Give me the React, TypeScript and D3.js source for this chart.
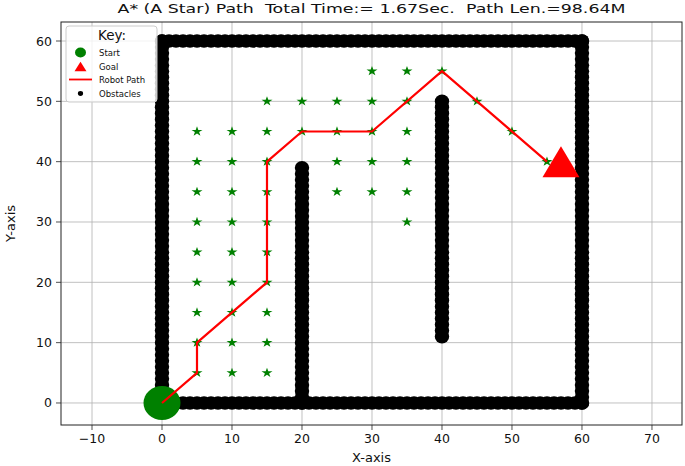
import React from "react";
import * as d3 from "d3";

// axis ticks
const xTicks = [-10, 0, 10, 20, 30, 40, 50, 60, 70];
const yTicks = [0, 10, 20, 30, 40, 50, 60];

// obstacle walls (grid units), expanded to one dot per unit
const wallStartX = [0, 60, 0, 0, 20, 40];
const wallStartY = [0, 0, 60, 0, 0, 11];
const wallEndX = [60, 60, 60, 0, 20, 40];
const wallEndY = [0, 60, 60, 60, 39, 50];

// visited nodes (green stars), one column per x
const starX = [5, 10, 15, 20, 25, 30, 35, 40, 45, 50, 55];
const starYs = [
  [5, 10, 15, 20, 25, 30, 35, 40, 45],
  [5, 10, 15, 20, 25, 30, 35, 40, 45],
  [5, 10, 15, 20, 25, 30, 35, 40, 45, 50],
  [45, 50],
  [35, 40, 45, 50],
  [35, 40, 45, 50, 55],
  [30, 35, 40, 45, 50, 55],
  [55],
  [50],
  [45],
  [40],
];

// final robot path
const pathX = [0, 5, 5, 15, 15, 20, 30, 40, 55];
const pathY = [0, 5, 10, 20, 40, 45, 45, 55, 40];

const start = [0, 0];
const goal = [57, 40];

const legendLabels = ["Start", "Goal", "Robot Path", "Obstacles"];

const title = "A* (A Star) Path  Total Time:= 1.67Sec.  Path Len.=98.64M";

const FONT = "DejaVu Sans, sans-serif";

export default function App() {
  const W = 685;
  const H = 466;
  const left = 61, right = 682, top = 22, bottom = 425;

  const x = d3.scaleLinear().domain([-14.43, 74.29]).range([left, right]);
  const y = d3.scaleLinear().domain([-3.65, 63.15]).range([bottom, top]);

  const obstacles: [number, number][] = [];
  wallStartX.forEach((_, i) => {
    const n = Math.max(Math.abs(wallEndX[i] - wallStartX[i]), Math.abs(wallEndY[i] - wallStartY[i]));
    for (let k = 0; k <= n; k++) {
      const t = n === 0 ? 0 : k / n;
      obstacles.push([
        wallStartX[i] + (wallEndX[i] - wallStartX[i]) * t,
        wallStartY[i] + (wallEndY[i] - wallStartY[i]) * t,
      ]);
    }
  });

  const stars: [number, number][] = [];
  starX.forEach((sx, i) => starYs[i].forEach(sy => stars.push([sx, sy])));

  const starPath = d3.symbol(d3.symbolStar, 30)() as string;
  const line = d3
    .line<number>()
    .x(i => x(pathX[i]))
    .y(i => y(pathY[i]));

  const tri = (cx: number, cy: number, hw: number, hh: number) =>
    `M${cx},${cy - hh}L${cx - hw},${cy + hh}L${cx + hw},${cy + hh}Z`;

  const legendY = [52.5, 66.5, 79.5, 93.5];

  return (
    <svg
      width={W}
      height={H}
      style={{ position: "absolute", left: 0, top: 0, background: "#fff" }}
      fontFamily={FONT}
    >
      <rect width={W} height={H} fill="#fff" />

      {/* grid */}
      <g stroke="#b0b0b0" strokeWidth={0.8}>
        {xTicks.map(t => (
          <line key={"gx" + t} x1={x(t)} x2={x(t)} y1={top} y2={bottom} />
        ))}
        {yTicks.map(t => (
          <line key={"gy" + t} x1={left} x2={right} y1={y(t)} y2={y(t)} />
        ))}
      </g>

      {/* obstacles */}
      <g fill="#000">
        {obstacles.map((d, i) => (
          <ellipse key={i} cx={x(d[0])} cy={y(d[1])} rx={7.2} ry={6.8} />
        ))}
      </g>

      {/* start and goal */}
      <ellipse cx={x(start[0])} cy={y(start[1])} rx={18.5} ry={17} fill="#008000" />
      <path d={tri(x(goal[0]), y(goal[1]), 18.5, 15.5)} fill="#ff0000" />

      {/* visited nodes */}
      <g fill="#008000">
        {stars.map((d, i) => (
          <path key={i} d={starPath} transform={`translate(${x(d[0])},${y(d[1])}) scale(1.12,1)`} />
        ))}
      </g>

      {/* path */}
      <path d={line(d3.range(pathX.length)) as string} fill="none" stroke="#ff0000" strokeWidth={2.2} strokeLinejoin="round" />

      {/* frame */}
      <rect x={left} y={top} width={right - left} height={bottom - top} fill="none" stroke="#222" strokeWidth={1} />

      {/* x ticks */}
      <g fontSize={12.5} fill="#111">
        {xTicks.map(t => (
          <g key={"xt" + t}>
            <line x1={x(t)} x2={x(t)} y1={bottom} y2={bottom + 5} stroke="#222" strokeWidth={0.8} />
            <text x={x(t)} y={bottom + 18} textAnchor="middle">
              {t < 0 ? "\u2212" + Math.abs(t) : t}
            </text>
          </g>
        ))}
        {yTicks.map(t => (
          <g key={"yt" + t}>
            <line x1={left - 5} x2={left} y1={y(t)} y2={y(t)} stroke="#222" strokeWidth={0.8} />
            <text x={left - 9} y={y(t) + 4.5} textAnchor="end">
              {t}
            </text>
          </g>
        ))}
      </g>

      {/* axis labels */}
      <text x={(left + right) / 2} y={462} textAnchor="middle" fontSize={13} fill="#111">
        X-axis
      </text>
      <text
        transform={`translate(15,${(top + bottom) / 2}) rotate(-90)`}
        textAnchor="middle"
        fontSize={13}
        fill="#111"
      >
        Y-axis
      </text>

      {/* title */}
      <text
        x={(left + right) / 2}
        y={13}
        textAnchor="middle"
        fontSize={13}
        fill="#111"
        style={{ whiteSpace: "pre" }}
        textLength={508}
        lengthAdjust="spacingAndGlyphs"
      >
        {title}
      </text>

      {/* legend */}
      <g>
        <rect x={66} y={26} width={91} height={76} rx={3} fill="#fff" fillOpacity={0.8} stroke="#cccccc" strokeWidth={1} />
        <text x={112} y={40} textAnchor="middle" fontSize={13.5} fill="#111">
          Key:
        </text>
        <ellipse cx={80.5} cy={legendY[0]} rx={5.5} ry={5} fill="#008000" />
        <path d={tri(80.5, legendY[1], 6, 4.8)} fill="#ff0000" />
        <line x1={69} x2={92} y1={legendY[2]} y2={legendY[2]} stroke="#ff0000" strokeWidth={1.8} />
        <ellipse cx={80.5} cy={legendY[3]} rx={2.6} ry={2.4} fill="#000" />
        {legendLabels.map((l, i) => (
          <text key={l} x={99} y={legendY[i] + 3} fontSize={8.5} fill="#111">
            {l}
          </text>
        ))}
      </g>
    </svg>
  );
}
